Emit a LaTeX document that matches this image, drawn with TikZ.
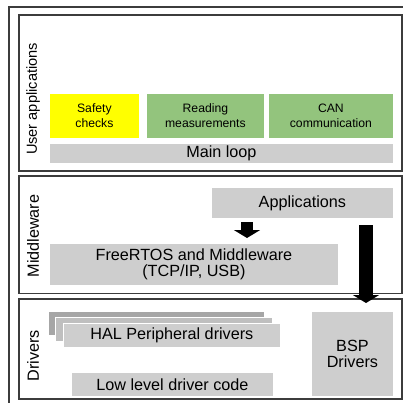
\documentclass[tikz,border=0pt]{standalone}
\usepackage{fontspec}
\setmainfont{Liberation Sans}
\usetikzlibrary{arrows.meta,calc}
\definecolor{safety}{RGB}{255,255,0}
\definecolor{appgreen}{RGB}{147,196,125}
\definecolor{boxgray}{RGB}{206,206,206}
\definecolor{framegray}{RGB}{60,60,60}
\begin{document}
\begin{tikzpicture}[x=1pt,y=-1pt,
		layer/.style={draw=framegray,line width=1.4pt},
		blk/.style={fill=boxgray,draw=white,line width=0.8pt,anchor=north west,inner sep=0pt,align=center,font=\fontsize{16.2}{15.5}\selectfont},
		small/.style={font=\fontsize{12.2}{15}\selectfont},
		side/.style={rotate=90,font=\fontsize{16.2}{18}\selectfont},
		fatarrow/.style={line width=12pt,-{Triangle[width=26pt,length=8pt]}}]
		\useasboundingbox (0,0) rectangle (403,402);
		\clip (0,0) rectangle (403,402);
		\draw[layer] (9,7) rectangle (414,414);
		\draw[layer] (19,15) rectangle (402,171);
		\draw[layer] (19,176) rectangle (402,293.5);
		\draw[layer] (19,299) rectangle (402,399);
		\node[side,font=\fontsize{14.6}{18}\selectfont] (user) at (33,99) {User applications};
		\node[side] (mid) at (33,236) {Middleware};
		\node[side] (drv) at (33,356) {Drivers};
			\node[blk,small,fill=safety,minimum width=90,minimum height=45] (safe) at (49,93) {Safety\\checks};
			\node[blk,small,fill=appgreen,minimum width=118,minimum height=45] (read) at (146,93) {Reading\\measurements};
			\node[blk,small,fill=appgreen,minimum width=125,minimum height=45] (can) at (268,93) {CAN\\communication};
			\node[blk,minimum width=344,minimum height=20] (loop) at (49,143) {Main loop};
			\node[blk,minimum width=182,minimum height=31] (apps) at (211,187) {Applications};
			\node[blk,minimum width=289,minimum height=42] (fr) at (49,243) {FreeRTOS and Middleware\\(TCP/IP, USB)};
			\node[blk,fill=black!35,minimum width=216,minimum height=24] (hal3) at (48,311) {};
			\node[blk,fill=black!25,minimum width=217,minimum height=24] (hal2) at (55,317) {};
			\node[blk,minimum width=217,minimum height=24] (hal) at (63,323) {HAL Peripheral drivers};
			\node[blk,minimum width=202,minimum height=24] (low) at (71,372) {Low level driver code};
			\node[blk,minimum width=82,minimum height=85] (bsp) at (311,311) {BSP\\Drivers};
		\coordinate (s1) at (247,222);
		\coordinate (s2) at (366,225);
		\draw[fatarrow,shorten >=5pt] (s1) -- (s1 |- fr.north);
		\draw[fatarrow,line width=14pt,shorten >=8pt] (s2) -- (s2 |- bsp.north);
\end{tikzpicture}
\end{document}
